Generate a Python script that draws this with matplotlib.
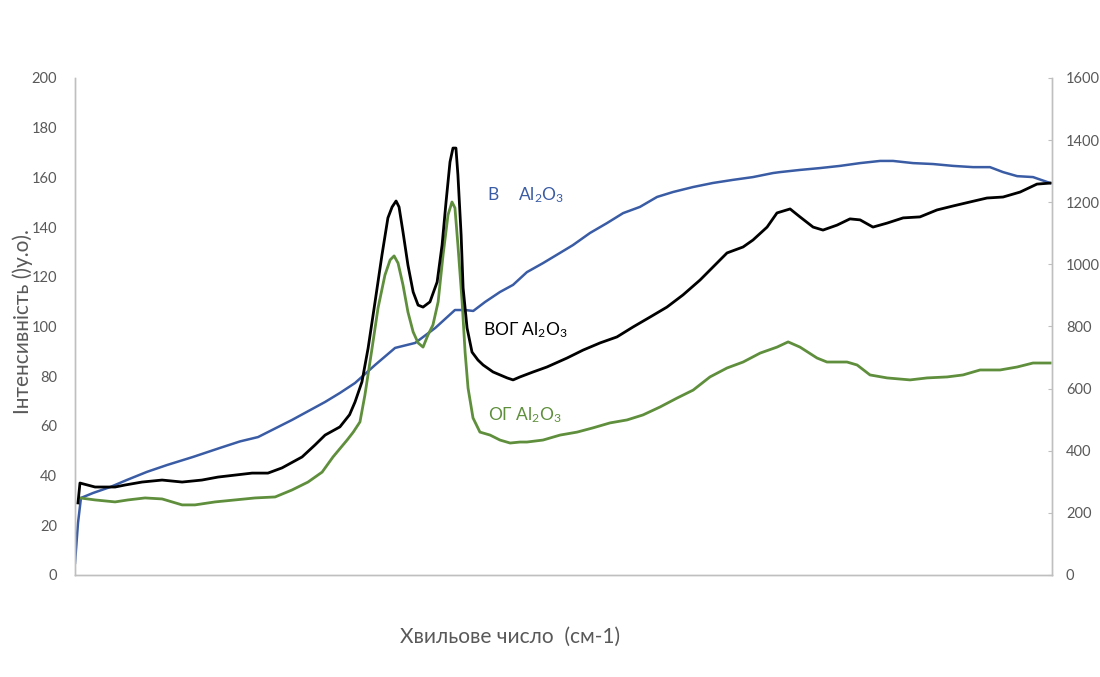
import matplotlib.pyplot as plt

plt.rcParams['font.family'] = ['Lato', 'DejaVu Sans']

# ВОГ Al2O3 (left axis)
vog_x = [62, 70, 131, 212, 252, 321, 402, 483, 563, 628, 697, 766, 830, 887, 968,
         1020, 1061, 1121, 1160, 1182, 1210, 1235, 1263, 1291, 1315, 1332, 1348,
         1360, 1376, 1396, 1417, 1437, 1457, 1485, 1514, 1534, 1550, 1566, 1578,
         1590, 1598, 1611, 1619, 1635, 1655, 1679, 1700, 1740,
         1797, 1821, 1849, 1902, 1958, 2039, 2104, 2173, 2241, 2306, 2375, 2443,
         2508, 2577, 2629, 2686, 2751, 2791, 2848, 2888, 2941, 2981, 3034, 3074,
         3131, 3183, 3224, 3276, 3333, 3398, 3466, 3535, 3600, 3668, 3737, 3802,
         3871, 3939, 3992]
vog_y = [29.0, 37.0, 35.4, 35.4, 36.2, 37.4, 38.2, 37.4, 38.2, 39.4, 40.2, 41.0,
         41.0, 43.1, 47.5, 52.3, 56.3, 59.6, 64.5, 69.6, 77.7, 91.3, 109.9, 128.8,
         143.7, 148.1, 150.5, 148.1, 138.0, 124.7, 113.9, 108.6, 107.8, 109.9,
         117.9, 132.8, 150.1, 166.2, 171.8, 171.8, 161.0, 136.8, 115.5, 99.4,
         89.7, 86.5, 84.5, 81.7, 79.3, 78.5, 79.7, 81.7, 83.7, 87.3, 90.5,
         93.4, 95.8, 99.8, 103.8, 107.8, 112.7, 118.7, 123.9, 129.6, 132.0, 134.8,
         140.0, 145.7, 147.3, 144.1, 140.0, 138.8, 140.8, 143.3, 142.9, 140.0,
         141.6, 143.7, 144.1, 146.9, 148.5, 150.1, 151.7, 152.1, 154.1, 157.3,
         157.7]

# ОГ Al2O3 (left axis)
og_x = [70, 131, 212, 264, 333, 402, 483, 535, 616, 697, 778, 859, 927, 992, 1049,
        1093, 1150, 1175, 1202, 1222, 1251, 1275, 1303, 1324, 1340, 1356, 1376,
        1396, 1417, 1437, 1457, 1477, 1497, 1518, 1538, 1558, 1574, 1586, 1598,
        1615, 1627, 1639, 1659, 1687, 1728, 1768, 1809,
        1849, 1877, 1942, 2011, 2080, 2144, 2213, 2282, 2346, 2415, 2484, 2549,
        2617, 2686, 2751, 2820, 2888, 2933, 2981, 3050, 3090, 3171, 3212, 3264,
        3333, 3426, 3495, 3576, 3640, 3709, 3790, 3859, 3923, 3992]
og_y = [31.0, 30.2, 29.4, 30.2, 31.0, 30.6, 28.2, 28.2, 29.4, 30.2, 31.0, 31.4,
        34.2, 37.4, 41.4, 47.5, 54.3, 57.5, 61.6, 72.4, 91.3, 107.4, 120.7, 126.8,
        128.4, 125.5, 116.7, 105.8, 97.8, 93.4, 91.7, 96.6, 100.6, 109.9, 128.8,
        144.9, 150.1, 147.7, 132.8, 109.9, 89.7, 75.2, 63.2, 57.5, 56.3, 54.3,
        53.1, 53.5, 53.5, 54.3, 56.3, 57.5, 59.2, 61.2,
        62.4, 64.4, 67.6, 71.2, 74.4, 79.7, 83.3, 85.7, 89.3, 91.7, 93.8, 91.7,
        87.3, 85.7, 85.7, 84.5, 80.5, 79.3, 78.5, 79.3, 79.7, 80.5, 82.5, 82.5,
        83.7, 85.3, 85.3]

# вихідний Al2O3 (right axis)
al_x = [50, 62, 74, 123, 192, 260, 341, 422, 527, 636, 717, 790, 927, 1061, 1121,
        1182, 1263, 1344, 1425, 1506, 1586, 1627, 1660, 1708, 1768, 1821, 1877,
        1942, 2011, 2063, 2132, 2201, 2266, 2334, 2403, 2468, 2549, 2629, 2710,
        2791, 2872, 2900, 2981, 3062, 3143, 3224, 3305, 3357, 3438, 3519, 3600,
        3681, 3749, 3802, 3859, 3923, 3992]
al_y = [39, 167, 248, 264, 283, 306, 332, 354, 380, 409, 430, 444, 499, 557, 586,
        618, 676, 731, 747, 795, 853, 853, 850, 879, 911, 934, 975, 1004, 1037,
        1062, 1101, 1133, 1165, 1185, 1217, 1233, 1249, 1262, 1272, 1281, 1294,
        1297, 1304, 1310, 1317, 1326, 1333, 1333, 1326, 1323, 1317, 1313, 1313,
        1297, 1284, 1281, 1262]

c_blue = '#3a5ca5'
c_black = '#000000'
c_green = '#5f8f3c'
c_grey = '#595959'
c_axis = '#bfbfbf'

fig = plt.figure(figsize=(11, 6.77), dpi=100)
ax = fig.add_axes([0.0682, 0.1507, 0.8882, 0.7341])
ax2 = ax.twinx()

ax2.plot(al_x, al_y, color=c_blue, lw=1.8)
ax.plot(og_x, og_y, color=c_green, lw=2.0, zorder=3)
ax.plot(vog_x, vog_y, color=c_black, lw=2.0, zorder=4)
ax.set_zorder(ax2.get_zorder() + 1)
ax.patch.set_visible(False)

ax.set_xlim(50, 4000)
ax.set_ylim(0, 200)
ax2.set_ylim(0, 1600)
ax.set_yticks(range(0, 201, 20))
ax2.set_yticks(range(0, 1601, 200))
ax.set_xticks([])

ax.tick_params(axis='y', length=0, pad=13, labelsize=10.5, labelcolor=c_grey)
ax2.tick_params(axis='y', direction='in', length=3, color=c_axis, pad=10,
                labelsize=10.5, labelcolor=c_grey)

for a in (ax, ax2):
    a.spines['top'].set_visible(False)
    for s in ('left', 'right', 'bottom'):
        a.spines[s].set_color(c_axis)
        a.spines[s].set_linewidth(1.0)

ax.set_ylabel('Інтенсивність ()у.о).', fontsize=15, color=c_grey, va='center')
ax.yaxis.set_label_coords(-0.054, 0.51)
ax.set_xlabel('Хвильове число  (см-1)', fontsize=15, color=c_grey, va='center')
ax.xaxis.set_label_coords(0.445, -0.125)

al2o3 = r'$\mathregular{Al_2O_3}$'
ax.text(1716, 153, 'В', fontsize=12.5, color=c_blue, va='center')
ax.text(1841, 153, al2o3, fontsize=12.5, color=c_blue, va='center')
ax.text(1700, 98.6, 'ВОГ ' + al2o3, fontsize=12.5, color=c_black, va='center')
ax.text(1720, 64.4, 'ОГ ' + al2o3, fontsize=12.5, color=c_green, va='center')

fig.savefig('out.png', dpi=100)
